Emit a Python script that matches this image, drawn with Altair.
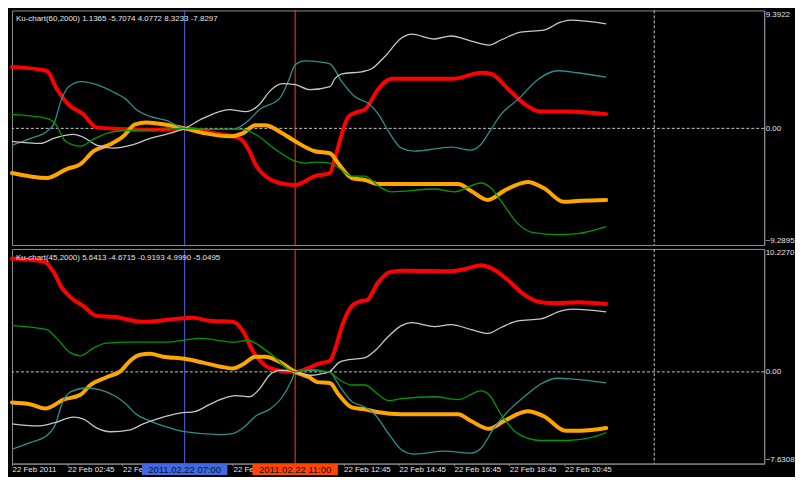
import altair as alt
import pandas as pd

# ---------------- data ----------------
SERIES = ["red", "orange", "teal", "white", "green"]
COLORS = ["#ff0000", "#ffa500", "#2e8f8f", "#c8c8c8", "#009a00"]
THICK = ["red", "orange"]

TICK_HOURS = [0.75, 2.75, 4.75, 6.75, 8.75, 10.75, 12.75, 14.75, 16.75, 18.75, 20.75]
TICK_LABELS = ["22 Feb 2011", "22 Feb 02:45", "22 Feb 04:45", "22 Feb 06:45", "22 Feb 08:45",
               "22 Feb 10:45", "22 Feb 12:45", "22 Feb 14:45", "22 Feb 16:45", "22 Feb 18:45",
               "22 Feb 20:45"]
X_DOMAIN = [0.75, 27.98]

MARKER_HOURS = [7.0, 11.0]
MARKER_LABELS = ["2011.02.22 07:00", "2011.02.22 11:00"]
MARKER_COLORS = ["#4169e1", "#ff4500"]
DAY_SEPARATOR = [24.0]

# ---- panel 1: Ku-chart(60,2000) ----
P1_NAME = "Ku-chart(60,2000)"
P1_RANGE = [-9.2895, 9.3922]

P1_RED_H = [0.75, 2.01, 2.37, 2.80, 3.34, 3.81, 4.67, 5.86, 7.00, 8.12, 8.99, 9.35, 9.56, 10.07, 10.43,
            11.00, 11.72, 12.26, 12.44, 12.94, 13.30, 13.52, 14.02, 14.49, 16.76, 17.73, 18.09, 18.70,
            19.28, 19.89, 20.86, 22.26]
P1_RED_V = [4.90, 4.59, 3.16, 1.90, 1.11, 0.08, -0.05, -0.12, 0.00, -0.40, -0.79, -1.82, -2.85, -4.03,
            -4.35, -4.51, -3.80, -3.56, -2.37, 0.95, 1.34, 1.50, 3.16, 3.96, 3.96, 4.43, 4.35, 3.16,
            1.98, 1.34, 1.34, 1.1365]

P1_ORANGE_H = [0.75, 2.01, 2.73, 3.23, 3.70, 4.31, 4.78, 5.21, 5.61, 6.47, 7.00, 7.76, 8.63, 9.10,
               9.56, 9.92, 10.43, 11.00, 11.72, 12.26, 12.58, 13.05, 13.52, 14.02, 16.90, 17.37,
               17.98, 18.56, 19.42, 20.00, 20.72, 21.33, 22.26]
P1_ORANGE_V = [-3.56, -3.96, -3.24, -2.85, -1.82, -1.27, -0.63, 0.32, 0.47, 0.24, 0.00, -0.40, -0.63,
               -0.40, 0.24, 0.24, -0.24, -1.03, -1.82, -1.98, -2.85, -3.96, -4.11, -4.43, -4.43,
               -4.98, -5.70, -4.98, -4.27, -4.75, -5.85, -5.77, -5.7074]

P1_TEAL_H = [0.75, 1.43, 2.01, 2.26, 2.55, 2.80, 3.27, 3.70, 4.53, 4.85, 5.25, 5.75, 6.33, 7.00, 7.91,
             8.74, 9.27, 9.71, 10.43, 10.79, 11.00, 11.36, 11.87, 12.26, 12.69, 13.16, 13.66, 14.02,
             14.38, 14.85, 15.32, 16.65, 17.37, 17.73, 18.09, 18.45, 19.06, 19.78, 20.50, 21.22, 22.26]
P1_TEAL_V = [-1.34, -0.79, -0.24, 0.32, 2.37, 3.32, 3.72, 3.56, 2.77, 2.37, 1.50, 0.95, 0.63, 0.00,
             -0.08, -0.08, 0.55, 1.50, 2.37, 3.96, 5.06, 5.38, 5.30, 5.14, 3.72, 2.53, 1.98, 1.11,
             -0.24, -1.58, -1.82, -1.50, -1.74, -1.27, -0.08, 1.11, 2.29, 3.88, 4.59, 4.43, 4.0772]

P1_WHITE_H = [0.75, 1.79, 2.26, 2.98, 3.34, 3.81, 4.42, 5.07, 5.75, 6.33, 7.00, 7.66, 8.63, 9.20, 9.71,
              10.07, 10.54, 11.00, 11.54, 12.26, 12.44, 12.69, 13.41, 13.77, 14.24, 14.85, 15.21,
              16.04, 16.65, 17.37, 18.02, 18.45, 19.17, 20.00, 20.61, 20.97, 22.26]
P1_WHITE_V = [-1.03, -1.19, -0.79, -0.47, -0.71, -1.34, -1.58, -1.34, -0.79, -0.47, 0.00, 0.79, 1.50,
              1.34, 1.90, 2.93, 3.56, 3.48, 3.08, 3.32, 3.96, 4.35, 4.51, 4.75, 5.70, 7.20, 7.51,
              7.12, 7.36, 6.96, 6.64, 7.04, 7.67, 7.83, 8.46, 8.62, 8.3233]

P1_GREEN_H = [0.75, 2.01, 2.33, 2.69, 3.23, 3.70, 4.31, 5.03, 6.22, 7.00, 8.12, 9.10, 9.56, 10.28,
              11.00, 11.36, 11.72, 12.26, 12.58, 13.05, 13.52, 14.02, 14.49, 16.04, 16.76, 17.73,
              18.09, 18.45, 19.06, 19.63, 20.50, 21.22, 22.26]
P1_GREEN_V = [1.11, 0.79, 0.32, -1.03, -1.42, -0.87, -0.32, -0.16, -0.08, 0.00, -0.08, -0.08, -0.47,
              -1.66, -2.61, -2.77, -2.69, -2.77, -3.16, -3.80, -3.80, -4.59, -5.06, -4.83, -5.06,
              -4.35, -4.75, -5.77, -7.59, -8.31, -8.46, -8.38, -7.8297]

# ---- panel 2: Ku-chart(45,2000) ----
P2_NAME = "Ku-chart(45,2000)"
P2_RANGE = [-7.6308, 10.2270]

P2_RED_H = [0.75, 1.90, 2.26, 2.55, 2.87, 3.34, 3.81, 4.42, 5.50, 6.69, 7.30, 7.91, 8.74, 9.10, 9.45,
            9.92, 10.43, 11.00, 11.51, 11.87, 12.26, 12.44, 12.69, 13.05, 13.34, 13.59, 14.02, 14.42,
            14.85, 16.65, 17.26, 17.73, 18.02, 18.70, 19.28, 19.89, 20.50, 21.22, 22.26]
P2_RED_V = [9.43, 9.19, 8.30, 7.01, 6.20, 5.47, 4.66, 4.58, 4.17, 4.41, 4.50, 4.25, 4.17, 3.44, 1.82,
            0.53, 0.12, 0.00, 0.36, 0.69, 0.93, 1.82, 3.77, 5.47, 5.87, 5.95, 7.49, 8.30, 8.42, 8.38,
            8.62, 8.87, 8.71, 7.65, 6.44, 5.79, 5.71, 5.79, 5.6413]

P2_ORANGE_H = [0.75, 1.43, 1.97, 2.62, 3.23, 3.59, 4.17, 4.71, 5.03, 5.39, 5.75, 6.22, 7.00, 7.66,
               8.27, 8.74, 9.10, 9.56, 9.92, 10.43, 11.00, 11.51, 11.80, 12.26, 12.58, 13.05, 13.52,
               14.02, 14.85, 16.90, 17.37, 18.02, 18.56, 19.42, 20.00, 20.79, 21.33, 22.26]
P2_ORANGE_V = [-2.55, -2.71, -3.04, -2.31, -1.90, -1.09, -0.45, 0.12, 0.93, 1.42, 1.50, 1.26, 1.09,
               0.77, 0.45, 0.28, 0.61, 1.26, 1.26, 0.85, 0.00, -0.45, -0.85, -0.93, -1.90, -2.96,
               -3.12, -3.36, -3.52, -3.52, -4.09, -4.74, -4.09, -3.28, -3.69, -4.90, -4.90, -4.6715]

P2_TEAL_H = [0.75, 1.43, 2.01, 2.33, 2.55, 2.87, 3.45, 3.95, 4.53, 4.89, 5.25, 5.75, 6.47, 7.00, 8.27,
             8.74, 9.20, 9.56, 10.07, 10.54, 10.89, 11.00, 11.51, 12.26, 12.58, 13.05, 13.48, 13.88,
             14.38, 14.85, 15.32, 16.40, 17.37, 17.73, 18.20, 18.81, 19.42, 19.89, 20.50, 21.07, 22.26]
P2_TEAL_V = [-6.44, -5.87, -5.30, -4.33, -2.71, -1.66, -1.34, -1.50, -2.07, -2.71, -3.52, -4.09, -4.66,
             -4.98, -5.22, -5.14, -4.50, -3.69, -3.12, -2.07, -0.61, 0.00, 0.12, -0.04, -1.09, -2.47,
             -2.88, -3.52, -5.14, -6.48, -6.84, -6.60, -6.76, -6.36, -4.66, -3.04, -1.82, -1.01,
             -0.53, -0.61, -0.9193]

P2_WHITE_H = [0.75, 1.65, 2.26, 2.98, 3.34, 3.81, 4.31, 5.03, 5.50, 6.11, 6.83, 7.40, 7.91, 8.38, 8.84,
              9.35, 9.71, 10.07, 10.43, 11.00, 11.51, 11.87, 12.26, 12.58, 12.94, 13.52, 13.88, 14.38,
              14.85, 15.21, 16.04, 16.65, 17.37, 17.98, 18.45, 19.06, 19.89, 20.61, 21.04, 22.26]
P2_WHITE_V = [-4.33, -4.50, -4.25, -3.77, -3.93, -4.66, -4.98, -4.82, -4.33, -3.85, -3.44, -3.28, -2.71,
              -2.23, -1.98, -2.07, -1.42, -0.28, 0.12, 0.00, -0.28, -0.20, 0.04, 0.77, 1.01, 1.17,
              1.74, 2.96, 3.85, 4.09, 3.77, 3.93, 3.52, 3.20, 3.69, 4.25, 4.41, 5.06, 5.22, 4.9990]

P2_GREEN_H = [0.75, 2.01, 2.37, 2.87, 3.23, 3.70, 4.17, 5.03, 6.33, 6.94, 7.55, 8.84, 9.27, 10.07,
              11.00, 11.51, 12.26, 12.58, 13.05, 13.52, 14.02, 14.38, 14.85, 16.04, 16.90, 17.73,
              18.02, 18.45, 19.06, 19.89, 20.86, 21.69, 22.26]
P2_GREEN_V = [3.85, 3.52, 2.79, 1.58, 1.34, 1.98, 2.39, 2.47, 2.47, 2.63, 2.79, 2.47, 2.63, 1.58,
              0.00, 0.20, -0.05, -0.61, -1.09, -1.09, -1.90, -2.39, -2.23, -2.07, -2.31, -1.58,
              -1.90, -3.52, -5.14, -5.71, -5.71, -5.47, -5.0495]

# ---------------- style ----------------
FONT = "Liberation Sans"
TEXT = "#e6e6e6"
FRAME = "#8c8c8c"
DOTS = "#c8c8c8"
PLOT_W = 757
BOX_W = 86
BOX_HALF_H = 5.5


def series_frame(pairs):
    rows = []
    for name, hs, vs in pairs:
        assert len(hs) == len(vs), (name, len(hs), len(vs))
        for h, v in zip(hs, vs):
            rows.append({"series": name, "hour": h, "value": v})
    return pd.DataFrame(rows)


label_expr = " : ".join(f"datum.value == {h} ? '{l}'" for h, l in zip(TICK_HOURS, TICK_LABELS)) + " : ''"
box_ratio = BOX_HALF_H / (BOX_W / 2)
box_path = f"M-1,-{box_ratio:.4f}L1,-{box_ratio:.4f}L1,{box_ratio:.4f}L-1,{box_ratio:.4f}Z"


def panel(name, rng, pairs, height, show_x):
    df = series_frame(pairs)
    last = [df[df.series == s]["value"].iloc[-1] for s in SERIES]
    header = name + " " + " ".join(f"{v:.4f}" for v in last)

    xscale = alt.Scale(domain=X_DOMAIN, nice=False, zero=False)
    yscale = alt.Scale(domain=rng, nice=False, zero=False)
    if show_x:
        xaxis = alt.Axis(values=TICK_HOURS, labelExpr=label_expr, title=None, orient="bottom",
                         domain=True, domainColor=FRAME, ticks=True, tickColor=FRAME, tickSize=2,
                         labelAlign="left", labelBaseline="top", labelPadding=0, labelFontSize=8,
                         labelColor=TEXT, labelFont=FONT, labelOverlap=False, labelFlush=False,
                         grid=False)
    else:
        xaxis = None
    yaxis = alt.Axis(values=[rng[0], 0, rng[1]],
                     labelExpr="datum.value == 0 ? '0.00' : format(datum.value, '.4f')",
                     orient="right", title=None, grid=False, ticks=False, domain=True,
                     domainColor=FRAME, labelFlush=True, labelPadding=1, labelFontSize=8,
                     labelColor=TEXT, labelFont=FONT, labelOverlap=False)
    X = alt.X("hour:Q", scale=xscale, axis=xaxis)
    Y = alt.Y("value:Q", scale=yscale, axis=yaxis)
    color = alt.Color("series:N", scale=alt.Scale(domain=SERIES, range=COLORS), legend=None)

    zero = alt.Chart(pd.DataFrame({"value": [0.0]})).mark_rule(
        color=DOTS, strokeDash=[3, 2], strokeWidth=1).encode(y=Y)
    sep = alt.Chart(pd.DataFrame({"hour": DAY_SEPARATOR})).mark_rule(
        color=DOTS, strokeDash=[3, 2], strokeWidth=1).encode(x=X)
    markers_df = pd.DataFrame({"hour": MARKER_HOURS, "label": MARKER_LABELS, "c": MARKER_COLORS})
    vlines = alt.Chart(markers_df).mark_rule(strokeWidth=1).encode(
        x=X, color=alt.Color("c:N", scale=None))
    thick = alt.Chart(df).transform_filter(
        alt.FieldOneOfPredicate(field="series", oneOf=THICK)).mark_line(
        strokeWidth=4, interpolate="monotone", strokeCap="round", strokeJoin="round").encode(
        x=X, y=Y, color=color, detail="series:N")
    thin = alt.Chart(df).transform_filter(
        ~alt.FieldOneOfPredicate(field="series", oneOf=THICK)).mark_line(
        strokeWidth=1.3, interpolate="monotone").encode(
        x=X, y=Y, color=color, detail="series:N")
    head = alt.Chart(pd.DataFrame({"label": [header]})).mark_text(
        align="left", baseline="top", font=FONT, fontSize=8, color=TEXT).encode(
        x=alt.value(4), y=alt.value(5), text="label:N")

    layers = [zero, sep, vlines, thick, thin, head]
    if show_x:
        boxes = alt.Chart(markers_df).mark_point(
            shape=box_path, size=BOX_W * BOX_W, filled=True, opacity=1, strokeWidth=0).encode(
            x=X, y=alt.value(height + 6), color=alt.Color("c:N", scale=None))
        btext = alt.Chart(markers_df).mark_text(
            font=FONT, fontSize=9.5, fill="#0c1428", align="center", baseline="middle").encode(
            x=X, y=alt.value(height + 6.5), text="label:N")
        layers += [boxes, btext]
    return alt.layer(*layers).properties(width=PLOT_W, height=height)


p1 = panel(P1_NAME, P1_RANGE, [
    ("red", P1_RED_H, P1_RED_V), ("orange", P1_ORANGE_H, P1_ORANGE_V),
    ("teal", P1_TEAL_H, P1_TEAL_V), ("white", P1_WHITE_H, P1_WHITE_V),
    ("green", P1_GREEN_H, P1_GREEN_V)], 236, False)
p2 = panel(P2_NAME, P2_RANGE, [
    ("red", P2_RED_H, P2_RED_V), ("orange", P2_ORANGE_H, P2_ORANGE_V),
    ("teal", P2_TEAL_H, P2_TEAL_V), ("white", P2_WHITE_H, P2_WHITE_V),
    ("green", P2_GREEN_H, P2_GREEN_V)], 216, True)

chart = alt.vconcat(p1, p2, spacing=2).resolve_scale(color="independent").configure(
    background="black", padding=0
).configure_view(stroke=FRAME, strokeWidth=1)

chart.save("out.html", embed_options={"renderer": "svg", "actions": False})
